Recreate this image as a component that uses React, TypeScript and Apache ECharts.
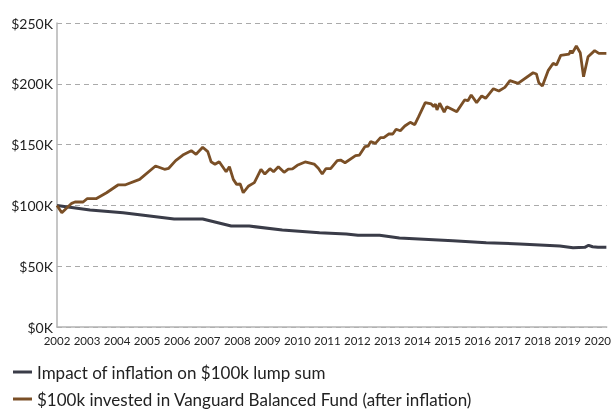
import React, { useEffect, useRef } from "react";
import * as echarts from "echarts";

// Balanced fund (after inflation), thousands of dollars
const fundYears = [
  2002.0, 2002.16, 2002.49, 2002.6, 2002.87, 2003.0, 2003.3, 2003.65, 2004.03, 2004.26,
  2004.75, 2005.28, 2005.58, 2005.72, 2005.95, 2006.19, 2006.47, 2006.63, 2006.85, 2007.02,
  2007.13, 2007.26, 2007.4, 2007.63, 2007.74, 2007.87, 2007.98, 2008.1, 2008.2, 2008.38,
  2008.57, 2008.79, 2008.92, 2009.09, 2009.21, 2009.37, 2009.56, 2009.7, 2009.84, 2010.0,
  2010.26, 2010.56, 2010.7, 2010.83, 2010.95, 2011.11, 2011.33, 2011.44, 2011.59, 2011.94,
  2012.07, 2012.25, 2012.36, 2012.44, 2012.6, 2012.77, 2012.88, 2013.04, 2013.18, 2013.29,
  2013.43, 2013.58, 2013.76, 2013.91, 2014.04, 2014.26, 2014.46, 2014.54, 2014.6, 2014.65,
  2014.74, 2014.89, 2014.98, 2015.31, 2015.57, 2015.68, 2015.79, 2015.97, 2016.14, 2016.27,
  2016.53, 2016.71, 2016.91, 2017.08, 2017.35, 2017.85, 2017.96, 2018.04, 2018.16, 2018.35,
  2018.52, 2018.63, 2018.77, 2019.05, 2019.1, 2019.15, 2019.29, 2019.42, 2019.53, 2019.68,
  2019.9, 2020.04, 2020.29,
];
const fundValues = [
  100, 94, 101.7, 102.8, 102.8, 105.5, 105.5, 110.4, 116.8, 116.8,
  121.4, 132.4, 129.7, 130.5, 136.8, 141.4, 145, 142, 147.8, 144.2,
  135.9, 133.8, 135.9, 127.7, 131.8, 121.4, 117.3, 117.6, 110.4, 116,
  118.7, 129.7, 125.8, 130.2, 127.7, 131.8, 127.2, 129.9, 130, 133,
  135.7, 134, 130.5, 125.8, 130.2, 130.2, 136.8, 137.3, 135.1, 140.9,
  141.4, 148.3, 148.8, 152.4, 151, 155.7, 155.7, 158.7, 158.7, 162.6,
  161.4, 165.3, 168.3, 166.4, 173, 184.5, 183.4, 181.2, 183.4, 178.5,
  184, 176.8, 181.2, 177.1, 186.7, 186.1, 190.8, 184.5, 190, 188.1,
  196, 194.1, 197.1, 202.6, 200.4, 209.1, 208.1, 200.9, 198.2, 210.8,
  216.9, 215.5, 223.4, 224.5, 227.3, 225, 231.1, 225.6, 205.8, 222.3,
  227.3, 225, 225,
];

// Impact of inflation on $100k lump sum, thousands of dollars
const inflYears = [
  2002.0, 2003.1, 2004.2, 2005.9, 2006.85, 2007.8, 2008.4, 2009.5, 2010.74, 2011.63,
  2012.02, 2012.74, 2013.4, 2015.18, 2016.29, 2017.4, 2018.74, 2019.18, 2019.57, 2019.7,
  2019.83, 2020.01, 2020.29,
];
const inflValues = [
  100, 96.2, 94, 88.8, 88.8, 83, 83, 79.8, 77.5, 76.5,
  75.4, 75.4, 73.2, 71, 69.3, 68.3, 66.6, 65.2, 65.5, 67.2,
  66, 65.5, 65.5,
];

const seriesNames = [
  "Impact of inflation on $100k lump sum",
  "$100k invested in Vanguard Balanced Fund (after inflation)",
];

const FONT = "Lato, 'Open Sans', sans-serif";

export default function App() {
  const ref = useRef<HTMLDivElement>(null);
  useEffect(() => {
    if (!ref.current) return;
    const chart = echarts.init(ref.current, null, { renderer: "svg" });
    const infl = inflYears.map((x, i) => [x, inflValues[i]]);
    const fund = fundYears.map((x, i) => [x, fundValues[i]]);
    const legendBase = {
      orient: "horizontal",
      left: 13,
      padding: 0,
      icon: "rect",
      itemWidth: 19,
      itemHeight: 3,
      textStyle: { fontSize: 17, color: "#222", fontFamily: FONT, lineHeight: 18, padding: 0 },
    };
    chart.setOption({
      animation: false,
      textStyle: { fontFamily: FONT },
      grid: { left: 57, right: 7, top: 23, bottom: 83, containLabel: false },
      xAxis: {
        type: "value",
        min: 2002,
        max: 2020.3,
        interval: 1,
        axisLine: { show: true, lineStyle: { color: "#b3b3b3", width: 1.5 } },
        axisTick: { show: false },
        splitLine: { show: false },
        axisLabel: {
          color: "#222",
          fontSize: 11.5,
          fontFamily: FONT,
          margin: 7,
          showMaxLabel: false,
          formatter: (v: number) => String(Math.round(v)),
        },
      },
      yAxis: {
        type: "value",
        min: 0,
        max: 250,
        interval: 50,
        axisLine: { show: true, lineStyle: { color: "#b3b3b3", width: 1.5 } },
        axisTick: { show: false },
        splitLine: { show: true, lineStyle: { color: "#aaaaaa", type: [5, 4], width: 1 } },
        axisLabel: {
          color: "#222",
          fontSize: 14,
          fontFamily: FONT,
          margin: 4,
          formatter: (v: number) => `$${v}K`,
        },
      },
      legend: [
        { ...legendBase, top: 363, data: [seriesNames[0]] },
        { ...legendBase, top: 390, data: [seriesNames[1]] },
      ],
      series: [
        {
          name: seriesNames[0],
          type: "line",
          data: infl,
          symbol: "none",
          lineStyle: { color: "#3a3c48", width: 3 },
          itemStyle: { color: "#3a3c48" },
          z: 2,
        },
        {
          name: seriesNames[1],
          type: "line",
          data: fund,
          symbol: "none",
          lineStyle: { color: "#7a4f26", width: 2.8 },
          itemStyle: { color: "#7a4f26" },
          z: 3,
        },
      ],
    });
    return () => chart.dispose();
  }, []);
  return (
    <div
      ref={ref}
      style={{ position: "fixed", left: 0, top: 0, width: 614, height: 410 }}
    />
  );
}
